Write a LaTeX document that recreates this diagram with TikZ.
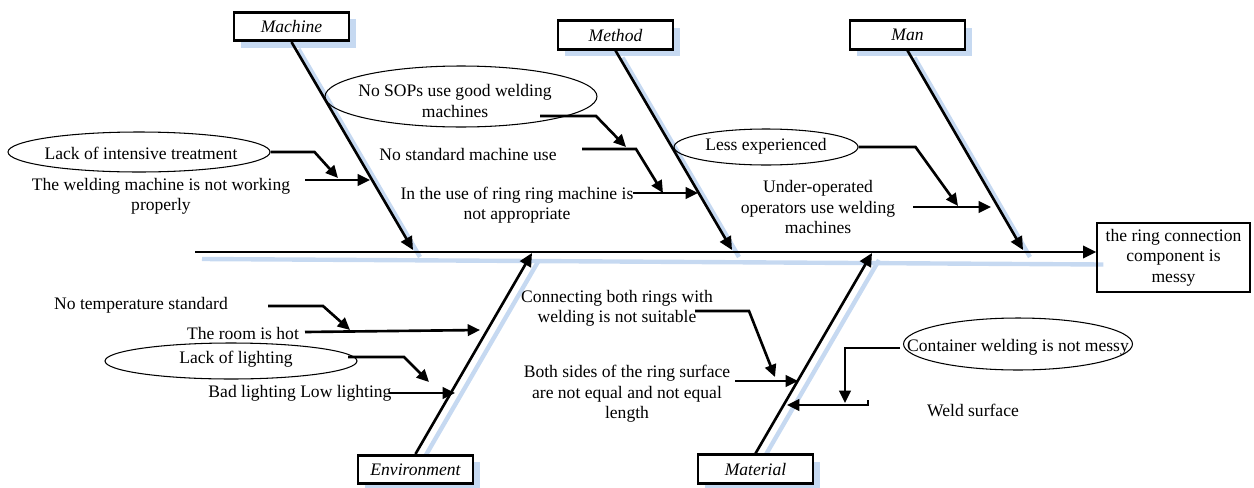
\documentclass[tikz,border=0pt]{standalone}
\usepackage{fontspec}
\setmainfont{Liberation Serif}
\usetikzlibrary{shapes.geometric,arrows.meta,shadows,backgrounds,positioning}
\definecolor{shade}{RGB}{198,217,241}
\tikzset{
	catbox/.style={draw,line width=1.5pt,fill=white,minimum width=2.3cm,minimum height=0.57cm,inner sep=0pt,
		font=\fontsize{10}{11.6}\selectfont\itshape,
		drop shadow={fill=shade,opacity=1,shadow xshift=0.14cm,shadow yshift=-0.14cm}},
	oval/.style={ellipse,draw,line width=0.6pt,inner sep=0pt},
	txt/.style={align=center,inner sep=0pt},
	bone/.style={line width=1.5pt,-{Triangle[length=7.5pt,width=7pt]}},
	twig/.style={line width=1.5pt,-{Triangle[length=7pt,width=6.5pt]}},
	ghost/.style={draw=shade,line width=2.5pt},
}

\begin{document}
\begin{tikzpicture}[x=0.02cm,y=-0.02cm,font=\fontsize{10}{11.6}\selectfont]
	\useasboundingbox (0,0) rectangle (1254,487);
	\node[catbox] (machine) at (291.5,26.5) {Machine};
	\node[catbox] (method) at (615.5,35) {Method};
	\node[catbox] (man) at (907.5,35) {Man};
	\node[catbox] (environment) at (415.5,469.5) {Environment};
	\node[catbox] (material) at (755.5,469) {Material};
	\node[draw,line width=0.8pt,minimum width=3.06cm,minimum height=1.38cm,txt] (effect) at (1173.5,257.5)
		{the ring connection\\component is\\messy};
	\coordinate (tail) at (195,252);
	\coordinate (mA) at (413,250);
	\coordinate (meA) at (732,250);
	\coordinate (maA) at (1023,250);
	\coordinate (enA) at (532,253);
	\coordinate (mtA) at (872,253);
	
	\node[oval,minimum width=5.24cm,minimum height=0.8cm] (lackint) at (139,152) {};
	\node[txt] (lackintt) at (141,153) {Lack of intensive treatment};
	\node[txt] (weldmach) at (161,196) {The welding machine is not working\\properly};
	\node[oval,minimum width=5.44cm,minimum height=1.22cm] (sops) at (461,96.5) {};
	\node[txt] (sopst) at (455,101) {No SOPs use good welding\\machines};
	\node[txt] (nostd) at (468,154) {No standard machine use};
	\node[txt] (inuse) at (517,205) {In the use of ring ring machine is\\not appropriate};
	\node[oval,minimum width=3.68cm,minimum height=0.72cm] (lessexp) at (766,147) {};
	\node[txt] (lessexpt) at (766,146) {Less experienced};
	\node[txt] (underop) at (818,207) {Under-operated\\operators use welding\\machines};
	\node[txt] (notemp) at (141,305) {No temperature standard};
	\node[txt] (roomhot) at (243,333) {The room is hot};
	\node[oval,minimum width=5.04cm,minimum height=0.72cm] (lacklight) at (231,361) {};
	\node[txt] (lacklightt) at (236,359) {Lack of lighting};
	\node[txt] (badlight) at (300,393) {Bad lighting Low lighting};
	\node[txt] (connect) at (617,308) {Connecting both rings with\\welding is not suitable};
	\node[txt] (bothsides) at (627,394) {Both sides of the ring surface\\are not equal and not equal\\length};
	\node[oval,minimum width=4.58cm,minimum height=1.04cm] (container) at (1018,344) {};
	\node[txt] (containert) at (1018,347) {Container welding is not messy};
	\node[txt] (weldsurf) at (973,410) {Weld surface};
	
	\begin{scope}[on background layer]
		\foreach \a/\b in {tail/effect.west,machine.south/mA,method.south/meA,man.south/maA,
			environment.north/enA,material.north/mtA}
		\draw[ghost] ([xshift=0.14cm,yshift=-0.14cm]\a) -- ([xshift=0.14cm,yshift=-0.14cm]\b);
	\end{scope}
	
	\draw[bone] (tail) -- (tail -| effect.west);
	\draw[bone] (machine.south) -- (mA);
	\draw[bone] (method.south) -- (meA);
	\draw[bone] (man.south) -- (maA);
	\draw[bone] (environment.north) -- (enA);
	\draw[bone] (material.north) -- (mtA);
	
	\coordinate (k1) at (338,178);
	\coordinate (w1) at (305,180);
	\coordinate (w2) at (370,180);
	\coordinate (s1) at (540,116);
	\coordinate (s2) at (626,147);
	\coordinate (n1) at (582,149);
	\coordinate (n2) at (663,193);
	\coordinate (u1) at (633,193);
	\coordinate (u2) at (698,193);
	\coordinate (l2) at (958,206);
	\coordinate (o1) at (913,207);
	\coordinate (o2) at (991,207);
	\coordinate (t1) at (268,306);
	\coordinate (t2) at (350,330);
	\coordinate (r1) at (305,332);
	\coordinate (r2) at (480,330);
	\coordinate (g1) at (348,357);
	\coordinate (g2) at (429,382);
	\coordinate (b1) at (389,393);
	\coordinate (b2) at (455,393);
	\coordinate (c1) at (695,311);
	\coordinate (c2) at (775,377);
	\coordinate (d1) at (735,381);
	\coordinate (d2) at (798,381);
	\coordinate (e1) at (900,348);
	\coordinate (e2) at (845,403);
	\coordinate (f1) at (868,400);
	\coordinate (f2) at (787,405);
	
	\draw[twig] (lackint.east) -- ++(44,0) -- (k1);
	\draw[twig] (w1) -- (w2);
	\draw[twig] (s1) -- ++(56,0) -- (s2);
	\draw[twig] (n1) -- ++(54,0) -- (n2);
	\draw[twig] (u1) -- (u2);
	\draw[twig] (lessexp.east) -- ++(57,0) -- (l2);
	\draw[twig] (o1) -- (o2);
	\draw[twig] (t1) -- ++(55,0) -- (t2);
	\draw[twig] (r1) -- (r2);
	\draw[twig] (g1) -- ++(56,0) -- (g2);
	\draw[twig] (b1) -- (b2);
	\draw[twig] (c1) -- ++(54,0) -- (c2);
	\draw[twig] (d1) -- (d2);
	\draw[twig] (e1) -- (e1 -| e2) -- (e2);
	\draw[twig] (f1) -- (f1 |- f2) -- (f2);
\end{tikzpicture}
\end{document}
